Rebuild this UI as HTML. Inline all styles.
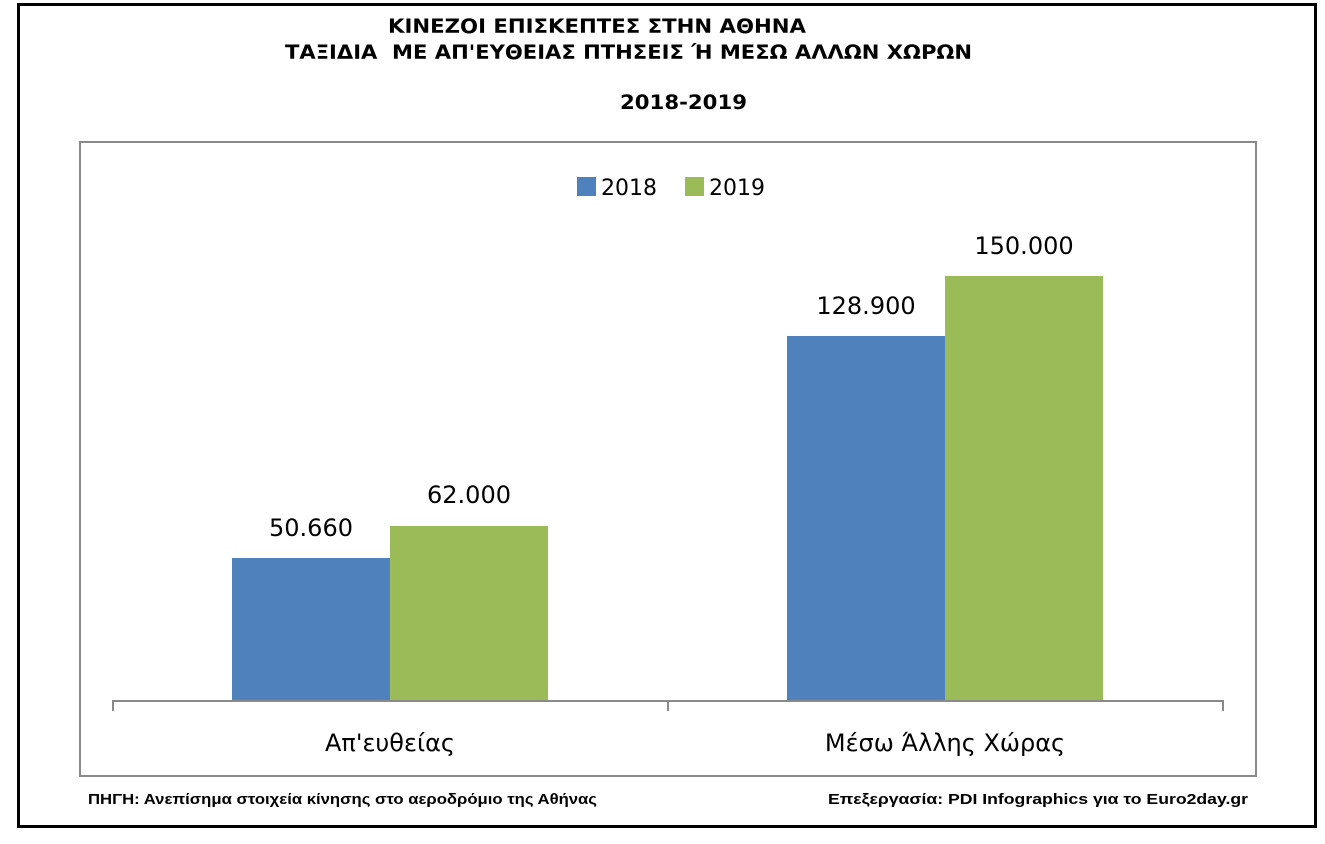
<!DOCTYPE html>
<html><head><meta charset="utf-8"><style>
html,body{margin:0;padding:0;background:#fff;}
svg{display:block;}
text{font-family:"DejaVu Sans","Liberation Sans",sans-serif;}
</style></head><body>
<svg width="1325" height="844" xmlns="http://www.w3.org/2000/svg">
<rect x="0" y="0" width="1325" height="844" fill="#fff"/>
<rect x="18.5" y="4.5" width="1297" height="822" fill="none" stroke="#000" stroke-width="3"/>
<g font-weight="bold" font-size="19.5" fill="#000">
<text x="388" y="33" textLength="418" lengthAdjust="spacingAndGlyphs">ΚΙΝΕΖΟΙ ΕΠΙΣΚΕΠΤΕΣ ΣΤΗΝ ΑΘΗΝΑ</text>
<text x="285" y="59" textLength="687" lengthAdjust="spacingAndGlyphs" xml:space="preserve">ΤΑΞΙΔΙΑ  ΜΕ ΑΠ'ΕΥΘΕΙΑΣ ΠΤΗΣΕΙΣ Ή ΜΕΣΩ ΑΛΛΩΝ ΧΩΡΩΝ</text>
<text x="620" y="109" textLength="127" lengthAdjust="spacingAndGlyphs">2018-2019</text>
</g>
<rect x="80" y="142" width="1176" height="634" fill="none" stroke="#8a8a8a" stroke-width="2"/>
<rect x="577" y="177" width="19" height="19" fill="#4f81bd"/>
<text x="601" y="195" font-size="22" fill="#000">2018</text>
<rect x="685" y="177" width="19" height="19" fill="#9bbb59"/>
<text x="709" y="195" font-size="22" fill="#000">2019</text>
<rect x="232" y="558" width="158" height="142" fill="#4f81bd"/>
<rect x="390" y="526" width="158" height="174" fill="#9bbb59"/>
<rect x="787" y="336" width="158" height="364" fill="#4f81bd"/>
<rect x="945" y="276" width="158" height="424" fill="#9bbb59"/>
<g font-size="24" text-anchor="middle" fill="#000">
<text x="311" y="536">50.660</text>
<text x="469" y="503">62.000</text>
<text x="866" y="314">128.900</text>
<text x="1024" y="254">150.000</text>
</g>
<g stroke="#8a8a8a" stroke-width="2" fill="none">
<line x1="113" y1="701" x2="1223" y2="701"/>
<line x1="113" y1="700" x2="113" y2="711"/>
<line x1="668" y1="700" x2="668" y2="711"/>
<line x1="1223" y1="700" x2="1223" y2="711"/>
</g>
<g font-size="24" text-anchor="middle" fill="#000">
<text x="390" y="751">Απ'ευθείας</text>
<text x="945" y="751">Μέσω Άλλης Χώρας</text>
</g>
<g font-weight="bold" font-size="15" fill="#000" style="font-family:'Liberation Sans',sans-serif">
<text x="88" y="804" textLength="509" lengthAdjust="spacingAndGlyphs" style="font-family:'Liberation Sans',sans-serif">ΠΗΓΗ: Ανεπίσημα στοιχεία κίνησης στο αεροδρόμιο της Αθήνας</text>
<text x="828" y="804" textLength="420" lengthAdjust="spacingAndGlyphs" style="font-family:'Liberation Sans',sans-serif">Επεξεργασία: PDI Infographics για το Euro2day.gr</text>
</g>
</svg>
</body></html>
